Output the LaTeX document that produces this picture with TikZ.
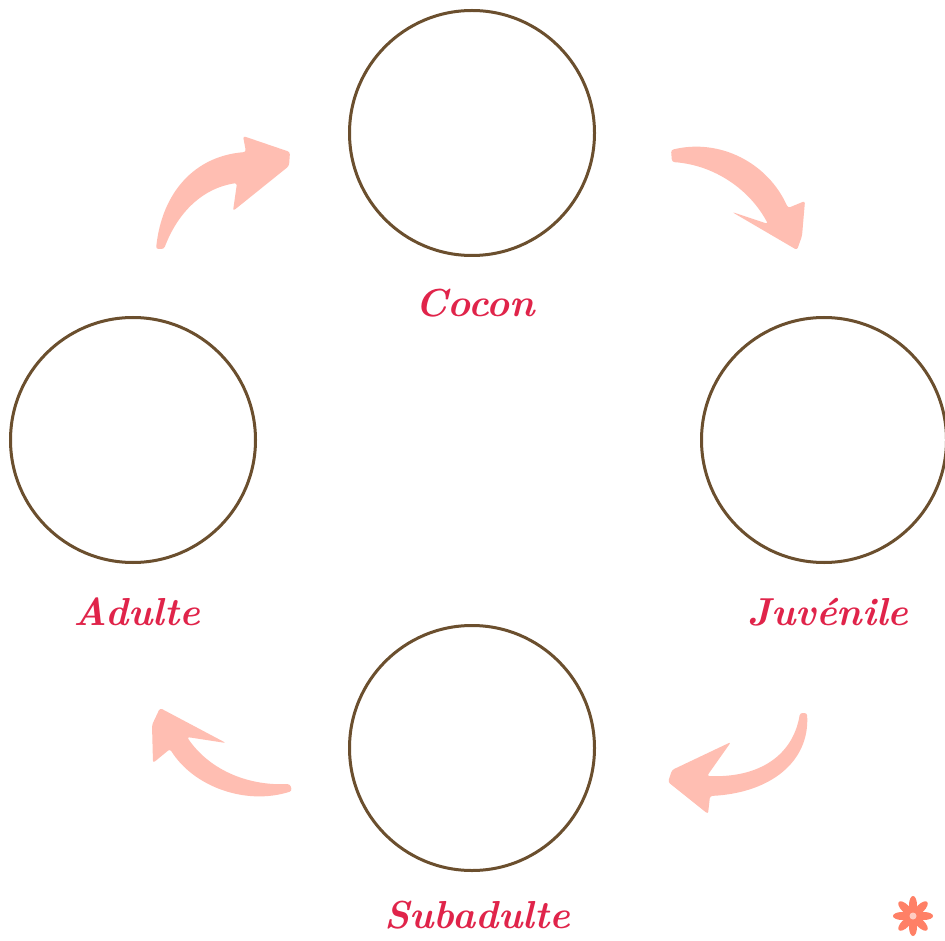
\documentclass[tikz,border=0pt]{standalone}
\definecolor{ringbrown}{RGB}{107,79,46}
\definecolor{arrpink}{RGB}{255,190,178}
\definecolor{labred}{RGB}{224,36,74}
\definecolor{flowercol}{RGB}{255,128,102}
\begin{document}
\begin{tikzpicture}[x=1pt,y=-1pt,
  stage/.style={circle,draw=ringbrown,line width=3pt,minimum size=245pt,inner sep=0pt},
  lab/.style={text=labred,font=\fontsize{39}{41}\selectfont\bfseries\itshape},
  arr/.style={fill=arrpink,draw=none,rounded corners=2.5pt}]
\fill[white] (0,0) rectangle (945,941);
\useasboundingbox (0,0) rectangle (945,941);
% stages
\node[stage] (cocon) at (472,133) {};
\node[stage] (juv) at (824,440) {};
\node[stage] (adult) at (133,440) {};
\node[stage] (sub) at (472,748) {};
% labels
\node[lab] (lcocon) at (475,303) {Cocon};
\node[lab] (ljuv) at (828,612) {Juvénile};
\node[lab] (ladult) at (137,612) {Adulte};
\node[lab] (lsub) at (477,915) {Subadulte};
% arrows
\fill[arr] (156,249) .. controls (162,192) and (195,156) .. (246,152) -- (243,136) -- (290,152) -- (289,166) -- (233,211) -- (237,183) .. controls (203,188) and (178,212) .. (164,249) -- cycle;
\fill[arr] (671,150) .. controls (720,138) and (768,163) .. (788,208) -- (805,201) -- (802,236) -- (797,250) -- (732,212) -- (768,224) .. controls (750,190) and (715,165) .. (672,162) -- cycle;
\fill[arr] (807,713) .. controls (810,762) and (770,793) .. (710,796) -- (708,814) -- (668,782) -- (672,770) -- (731,742) -- (707,776) .. controls (760,778) and (793,755) .. (800,713) -- cycle;
\fill[arr] (292,791) .. controls (245,806) and (193,786) .. (170,749) -- (153,763) -- (152,725) -- (160,708) -- (226,743) -- (187,737) .. controls (208,768) and (245,786) .. (290,784) -- cycle;
% flower
\foreach \a in {0,45,...,315}{
  \fill[flowercol,rotate around={\a:(913,916)}] (924,916) ellipse (9 and 4);
}
\fill[white!60!flowercol] (913,916) circle (3.5);
\end{tikzpicture}
\end{document}
